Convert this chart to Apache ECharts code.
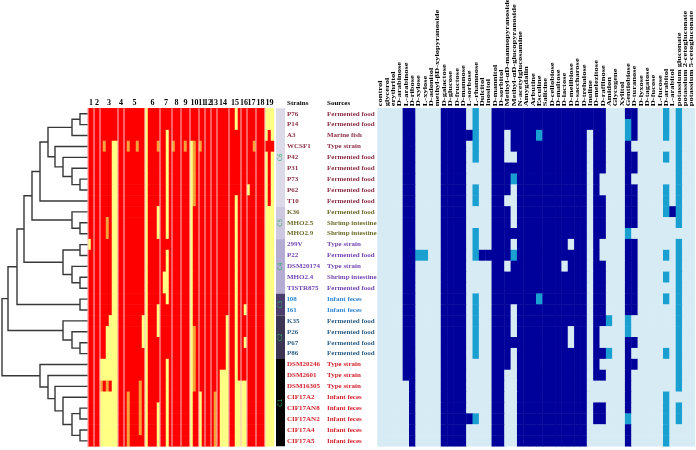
<!DOCTYPE html>
<html>
<head>
<meta charset="utf-8">
<script src="https://cdn.jsdelivr.net/npm/echarts@6/dist/echarts.min.js"></script>
<style>html,body{margin:0;padding:0;background:#fff}#main{width:696px;height:450px}</style>
</head>
<body>
<div id="main"></div>
<script>
var strains = ['P76','P14','A3','WCSF1','P42','P31','P73','P62','T10','K36','MHO2.5','MHO2.9',
    '299V','P22','DSM20174','MHO2.4','TISTR875','I08','I61','K35','P26','P67','P86',
    'DSM20246','DSM2601','DSM16305','CIF17A2','CIF17AN8','CIF17AN2','CIF17A4','CIF17A5'];
var sources = ['Fermented food','Fermented food','Marine fish','Type strain','Fermented food','Fermented food',
    'Fermented food','Fermented food','Fermented food','Fermented food','Shrimp intestine','Shrimp intestine',
    'Type strain','Fermented food','Type strain','Shrimp intestine','Fermented food','Infant feces','Infant feces',
    'Fermented food','Fermented food','Fermented food','Fermented food','Type strain','Type strain','Type strain',
    'Infant feces','Infant feces','Infant feces','Infant feces','Infant feces'];

// gene blocks 1..19 and how many sub-columns each one holds
var geneLabels = ['1','2','3','4','5','6','7','8','9','10','11','12','13','14','15','16','17','18','19'];
var geneWidths = [2,2,6,2,7,5,4,3,3,3,2,2,2,4,4,2,3,3,3];

// r = red, y = yellow, o = orange (one char per sub-column)
var profileRows = [
    'rrrrrrrrrr rrrrrrrrry rrrrrrrrrr rrrrrrrrrr rrrrrrrrry rrrrrrrrry yy',
    'rrrrrrrrrr rrrrrrrrry rrrrrrrrrr rrrrrrrrrr rrrrrrrrry rrrrrrrrry yy',
    'rrrrrrrrrr rrrrrrrrry rrrrrryrrr rrrrrrrrrr rrrrrrrrrr rrrrrrrrry ry',
    'rrrrrorryy rrrorrorry rrrorryror rroryororr rrrrrrrrrr rrrrrorrrr rr',
    'rrrrrrrryy rrrrrrrrry rrrrrryrrr rrrryorrrr rrrrrrrrrr rrrrrrrrry ry',
    'rrrrrrrryy rrrrrrrrry rrrrrryrrr rrrryorrrr rrrrrrrrrr rrrrrrrrry ry',
    'rrrrrrrryy rrrrrrrrry rrrrrryrrr rrrryorrrr rrrrrrrrrr rrrrrrrrry ry',
    'rrrrrrrryy rrrrrrrrry rrrrrryrrr rrrryorrrr rrrrrrrrrr rrryrrrrry ry',
    'rrrrrrrryy rrrrrrrrry rrrrrryrrr rrrryorrrr rrrrrrrrry rrrrrrrrry ry',
    'rrrrrrrryy rrrrrrrrry rrryrryrrr rrrryrrrrr rrrrrrrrry rrrrrrrrry yy',
    'rrrrrroryy rrrrrrrrry rrryrryrrr rrrryrrrrr rrrrrrrrry rrrrrrrrry yy',
    'rrrrrroryy rrrrrrrrry rrryrryrrr rrrryrrrrr rrrrrrrrry rrrrrrrrry yy',
    'yrrrrrrryy rrrrrrrrry rrrrrrrrrr rrrryrrrrr rrrrrrrrry rrrrrrrrry yy',
    'rrrrrrrryy rrrrrrrrry rrrrrryrrr rrrryrrrrr rrrrrrrrry rrrrrrrrry yy',
    'rrrrrrrryy rrrrrrrrry rrrrrryrrr rrrryrrrrr rrrrrrrrry rrrrrrrrry yy',
    'rrrrrrrryy rrrrrrrrry rrrrryyrrr rrrryrrrrr rrrrrrrrry rrrrrrrrry yy',
    'rrrrrrrryy rrrrrrrrry rrrrryyrrr rrrryrrrrr rrrrrrrrry rrrrrrrrry yy',
    'rrrrrrrryy rrrrrrrrry rrrrrryrrr rrrryrrrrr rrrrrrrrry rrrrrrrrry yy',
    'rrrrrrrryy rrrrrrrrry rrryrrrrrr rrrryrrrrr rrrrrrrrry rryrrrrrry yy',
    'rrrrrrryyy rrrrrrrryy rrryrrrrrr rrrryrrrrr rrrrrryrry rrrrrrrrry yy',
    'rrrrrryyyy rrrrrrrryy rrryrrrrrr rrrryorrrr rrrrrryrry rrrrrrrrry yy',
    'rrrrrryyyy rrrrrrrryy rrrrrrrrrr rrrryorrrr rrrrrryrry rryrrrrrry yy',
    'rrrrrryyyy rrrrrrrrry rrrrrrrrrr rrrryorrrr rrrrrryrry rrrrrrrrry yy',
    'rrrryyyyyy rrrrrrrrry rrrrrryrrr rrrryorrrr rrrrrryrry rrrrrrrrry yy',
    'rrrryyyyyy rrrrrrrrry rrrrrryrrr rrrryorrrr rrrryyyrry rrrrrrrrry yy',
    'rrrrororyy rrrrrrrory rrrrrryrrr rrrryorrrr rrrryyyrry yyyrrrrrry yy',
    'rrrryyyyyy rrrorrrory rrrrrryrrr rrrryrryrr rroryyyrry yyyrrrrrry yy',
    'rrrryyyyyy rrrorrrory rrryrryrrr rrrryrryrr rroryyyrry yyyrrrrrry yy',
    'rrrryyyyyy rrrorrrory rrryrryrrr rrrryrryrr rroryyyrry yyyrrrrrry yy',
    'rrrryyyyyy rrrorrrory rrryrryrrr rrrryrryrr rroryyyrry yyyrrrrrry yy',
    'rrrryyyyyy rrrorrrrry rrryrryrrr rrrryrryrr rroryyyrry yyyrrrrrry yy'
];

var sugars = ['control','glycerol','erythritol','D-arabinose','L-arabinose','D-ribose','D-xylose','L-xylose',
    'D-adonitol','methyl-βD-xylopyranoside','D-galactose','D-glucose','D-fructose','D-mannose','L-sorbose',
    'L-rhamnose','Dulcitol','Inositol','D-mannitol','D-sorbitol','Methyl-αD-mannopyranoside',
    'Methyl-αD-glucopyranoside','N-acetylglucosamine','Amygdalin','Arbutine','Esculine','Salicine',
    'D-cellobiose','D-maltose','D-lactose','D-melibiose','D-saccharose','D-trehalose','Inuline',
    'D-melezitose','D-raffinose','Amidon','Glycogene','Xylitol','Gentiobiose','D-turanose','D-lyxose',
    'D-tagatose','D-fucose','L-fucose','D-arabitol','L-arabitol','potassium gluconate',
    'potassium 2-cetogluconate','potassium 5-cetogluconate'];

// 0 = negative, 1 = weak, 2 = positive
var sugarRows = [
    '0000220000 2222010022 2222222222 2222220002 2000010100',
    '0000220000 2222010022 2222222222 2222220001 2000010100',
    '0000220000 2222210022 0222212222 2220220001 2000010100',
    '0000220000 2222010022 0222222222 2220220002 0000000100',
    '0000220000 2222010022 0022222222 2220220002 2000010100',
    '0000220000 2222000022 2222222222 2220220002 2000000100',
    '0000220000 2222000022 2122222222 2220200002 0000000100',
    '0000220000 2222010022 2022222222 2220200002 2000010100',
    '0000220000 2222010022 0022222222 2220220002 2000010100',
    '0000220000 2222000022 2022222222 2220220002 2000012100',
    '0000220000 2222000022 2022222222 2220220002 2000000100',
    '0000220000 2222010022 2222222222 2220220001 0000000000',
    '0000220000 2222010022 2022222222 0220200002 2000000100',
    '0000221100 2222012222 2122222222 2220200002 2000010100',
    '0000220000 2222000022 0222222220 2220220002 2000000100',
    '0000220000 2222000022 2222222222 2220220002 2000010100',
    '0000220000 2222000022 2222222222 2220220002 2000000100',
    '0000220000 2222010022 2222212222 2220220002 2000010100',
    '0000220000 2222010022 2022222222 2220220002 2000000100',
    '0000220000 2222010022 2022222222 2220221001 0000000100',
    '0000220000 2222010022 2022222222 0220200001 0000000100',
    '0000220000 2222010022 2222222222 0220200002 2000000100',
    '0000220000 2222010022 2022222222 2220221002 0000010100',
    '0000220000 2222000022 2022222222 2220200002 2000000100',
    '0000220000 2222000022 0022222222 2220220002 0000000100',
    '0000020000 2222000022 0022222222 2220000002 0000000100',
    '0000020000 2222000022 0022222222 2220000002 0000010000',
    '0000020000 2222000022 0022222222 2220220002 0000010100',
    '0000020000 2222210022 0022222222 2220220001 0000010100',
    '0000020000 2222000022 0022222222 2220000002 0000010000',
    '0000020000 2222000022 0022222222 2220000002 0000010000'
];

// dendrogram: [height, left, right], leaves are row numbers
var tree = [86,
    [80,
        [71,
            [64,
                [56,
                    [48, [40, [16, [8, 0, 1], 2], [33, 3, [25, 4, [16, 5, [8, 6, 7]]]]], 8],
                    [16, 9, [8, 10, 11]]],
                [25, [8, 12, 13], [16, 14, [8, 15, 16]]]],
            [8, 17, 18]],
        [25, 19, [16, 20, [8, 21, 22]]]],
    [48, 23, [40, 24, [33, 25, [25, 26, [16, [8, 27, 28], [8, 29, 30]]]]]]];

var clusterNames = ['C6','C5','C4','C3','C2','C1'];
var clusterSizes = [9, 3, 5, 2, 4, 8];
var clusterFill = ['#dcd9e9','#cdc7e0','#b5acd3','#4b3d6d','#3b3452','#050505'];
var clusterText = ['#8c2f45','#6b6c2c','#7446b2','#2f86d2','#2e5f86','#d3232e'];

var chart = echarts.init(document.getElementById('main'));

var TOP = 108.3, H = 338;
var serif = '"Liberation Serif", "Times New Roman", serif';

var dendroSegs = [];
function layout(node) {
    if (typeof node === 'number') return { h: 0, y: node };
    var a = layout(node[1]), b = layout(node[2]);
    dendroSegs.push([a.h, a.y, node[0], b.y, b.h]);
    return { h: node[0], y: (a.y + b.y) / 2 };
}
layout(tree);

var profileCode = { r: 0, y: 1, o: 2 };
var profileData = [];
var nSub = 0;
profileRows.forEach(function (s, i) {
    s = s.replace(/ /g, '');
    nSub = s.length;
    for (var k = 0; k < s.length; k++) profileData.push([k, i, profileCode[s[k]]]);
});
var subCats = [];
for (var k = 0; k < nSub; k++) subCats.push(k);

var geneData = [];
var acc = 0;
geneWidths.forEach(function (w, g) { geneData.push([acc, w, g]); acc += w; });

var sugarData = [];
sugarRows.forEach(function (s, i) {
    s = s.replace(/ /g, '');
    for (var j = 0; j < s.length; j++) sugarData.push([j, i, +s[j]]);
});

var rowGroup = [];
var clusterData = [];
var start = 0;
clusterSizes.forEach(function (n, c) {
    clusterData.push([start, start + n - 1, c]);
    for (var i = 0; i < n; i++) rowGroup.push(c);
    start += n;
});

var rowAxis = function (idx) {
    return { type: 'value', gridIndex: idx, min: -0.5, max: strains.length - 0.5, inverse: true, show: false };
};

var option = {
    animation: false,
    grid: [
        { left: 2, top: TOP, width: 86, height: H, outerBoundsMode: 'none' },
        { left: 88, top: TOP, width: 186, height: H, outerBoundsMode: 'none' },
        { left: 276, top: TOP, width: 9, height: H, outerBoundsMode: 'none' },
        { left: 287, top: TOP, width: 88, height: H, outerBoundsMode: 'none' },
        { left: 377.5, top: TOP, width: 317.5, height: H, outerBoundsMode: 'none' }
    ],
    xAxis: [
        { type: 'value', gridIndex: 0, min: 0, max: 86, inverse: true, show: false },
        { type: 'category', gridIndex: 1, data: subCats, show: false },
        { type: 'value', gridIndex: 2, min: 0, max: 1, show: false },
        { type: 'value', gridIndex: 3, min: 0, max: 1, show: false },
        { type: 'category', gridIndex: 4, data: sugars, show: false }
    ],
    yAxis: [
        rowAxis(0),
        { type: 'category', gridIndex: 1, data: strains, inverse: true, show: false },
        rowAxis(2),
        rowAxis(3),
        { type: 'category', gridIndex: 4, data: strains, inverse: true, show: false }
    ],
    visualMap: [
        { type: 'piecewise', show: false, seriesIndex: 1, dimension: 2,
          pieces: [{ value: 0, color: '#fe0000' }, { value: 1, color: '#ffff84' }, { value: 2, color: '#f6a23a' }] },
        { type: 'piecewise', show: false, seriesIndex: 5, dimension: 2,
          pieces: [{ value: 0, color: '#d6ebf4' }, { value: 1, color: '#1a9fd1' }, { value: 2, color: '#00009a' }] }
    ],
    graphic: [
        { type: 'text', left: 287, top: 100, style: { text: 'Strains', fontSize: 7, fontWeight: 'bold', fontFamily: serif, fill: '#000' } },
        { type: 'text', left: 327, top: 100, style: { text: 'Sources', fontSize: 7, fontWeight: 'bold', fontFamily: serif, fill: '#000' } }
    ],
    series: [
        {
            type: 'custom', xAxisIndex: 0, yAxisIndex: 0, data: dendroSegs,
            renderItem: function (params, api) {
                var pts = [
                    api.coord([api.value(0), api.value(1)]),
                    api.coord([api.value(2), api.value(1)]),
                    api.coord([api.value(2), api.value(3)]),
                    api.coord([api.value(4), api.value(3)])
                ];
                return { type: 'polyline', shape: { points: pts }, style: { stroke: '#383838', lineWidth: 1.4, fill: null } };
            }
        },
        {
            type: 'heatmap', xAxisIndex: 1, yAxisIndex: 1, data: profileData,
            emphasis: { disabled: true }
        },
        {
            type: 'custom', xAxisIndex: 1, yAxisIndex: 1, data: geneData,
            renderItem: function (params, api) {
                var cs = params.coordSys;
                var band = api.size([1, 0])[0];
                var x0 = api.coord([api.value(0), 0])[0] - band / 2;
                var w = api.value(1) * band;
                return {
                    type: 'group', children: [
                        { type: 'line', shape: { x1: x0, y1: cs.y, x2: x0, y2: cs.y + cs.height },
                          style: { stroke: '#f6c4c4', lineWidth: 1 } },
                        { type: 'text', style: { text: geneLabels[api.value(2)], x: x0 + w / 2, y: cs.y - 1,
                          align: 'center', verticalAlign: 'bottom', fontSize: 8, fontWeight: 'bold', fontFamily: serif, fill: '#000' } }
                    ]
                };
            }
        },
        {
            type: 'custom', xAxisIndex: 2, yAxisIndex: 2, data: clusterData,
            renderItem: function (params, api) {
                var p0 = api.coord([0, api.value(0) - 0.5]);
                var p1 = api.coord([1, api.value(1) + 0.5]);
                var c = api.value(2);
                return {
                    type: 'group', children: [
                        { type: 'rect', shape: { x: p0[0], y: p0[1], width: p1[0] - p0[0], height: p1[1] - p0[1] },
                          style: { fill: clusterFill[c] } },
                        { type: 'text', x: (p0[0] + p1[0]) / 2, y: (p0[1] + p1[1]) / 2, rotation: Math.PI / 2,
                          style: { text: clusterNames[c], x: 0, y: 0, align: 'center', verticalAlign: 'middle',
                          fontSize: 6, fontFamily: 'DejaVu Sans', fill: '#2fae62' } }
                    ]
                };
            }
        },
        {
            type: 'custom', xAxisIndex: 3, yAxisIndex: 3,
            data: strains.map(function (s, i) { return [0, i]; }),
            renderItem: function (params, api) {
                var i = api.value(1);
                var p = api.coord([0, i]);
                var col = clusterText[rowGroup[i]];
                var st = { fontSize: 7, fontWeight: 'bold', fontFamily: serif, fill: col, verticalAlign: 'middle', align: 'left' };
                return {
                    type: 'group', children: [
                        { type: 'text', style: Object.assign({ text: strains[i], x: p[0], y: p[1] }, st) },
                        { type: 'text', style: Object.assign({ text: sources[i], x: p[0] + 40, y: p[1] }, st) }
                    ]
                };
            }
        },
        {
            type: 'heatmap', xAxisIndex: 4, yAxisIndex: 4, data: sugarData,
            emphasis: { disabled: true }
        },
        {
            // rotated substrate names above the API 50 CH columns
            type: 'custom', xAxisIndex: 4, yAxisIndex: 4,
            data: sugars.map(function (s, j) { return [j, 0]; }),
            renderItem: function (params, api) {
                var cs = params.coordSys;
                var x = api.coord([api.value(0), 0])[0];
                return {
                    type: 'text', x: x, y: cs.y - 2, rotation: Math.PI / 2, scaleY: 0.74,
                    style: { text: sugars[api.value(0)], x: 0, y: 0, align: 'left', verticalAlign: 'middle',
                        fontSize: 8.5, fontWeight: 'bold', fontFamily: serif, fill: '#000' }
                };
            }
        }
    ]
};

chart.setOption(option);
</script>
</body>
</html>
